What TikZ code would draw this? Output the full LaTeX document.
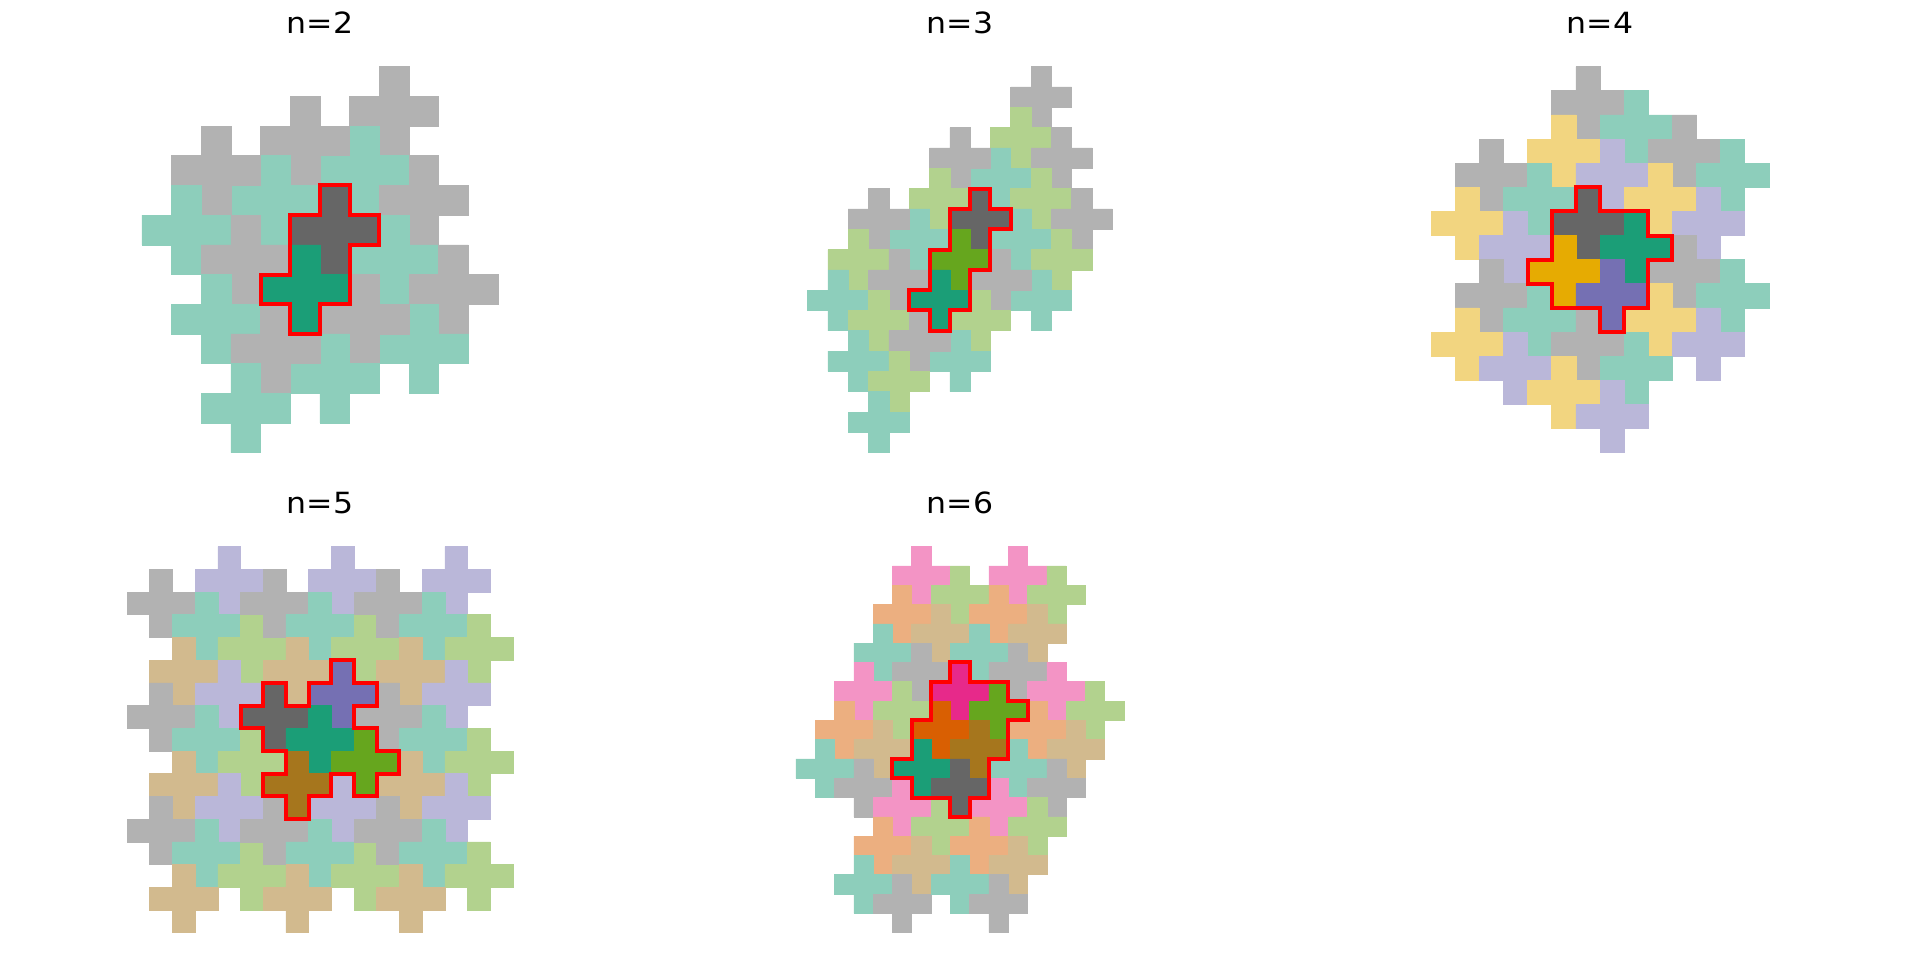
\documentclass[tikz,border=0pt]{standalone}
\usepackage{fontspec}
\setmainfont{DejaVu Sans}
\newfontfamily\titlefont[FakeStretch=1.08]{DejaVu Sans}
\usepackage{xcolor}
\definecolor{dteal}{HTML}{1B9E77}
\definecolor{dorange}{HTML}{D95F02}
\definecolor{dpurple}{HTML}{7570B3}
\definecolor{dpink}{HTML}{E7298A}
\definecolor{dgreen}{HTML}{66A61E}
\definecolor{dyellow}{HTML}{E6AB02}
\definecolor{dbrown}{HTML}{A6761D}
\definecolor{dgray}{HTML}{666666}
% one plus-shaped tile, centre cell (#1,#2), rows counted downwards
\newcommand{\xtile}[3]{\path[tile=#3] (#1,#2) ++(0,-1) -- ++(1,0) -- ++(0,1) -- ++(1,0)
  -- ++(0,1) -- ++(-1,0) -- ++(0,1) -- ++(-1,0) -- ++(0,-1) -- ++(-1,0) -- ++(0,-1) -- ++(1,0) -- cycle;}

\begin{document}
\begin{tikzpicture}[x=0.5pt, y=-0.5pt,
  title/.style={font=\titlefont\fontsize{14.6}{17}\selectfont, anchor=base, inner sep=0pt},
  tile/.style={fill=#1, draw=#1, line width=0.3pt},
  outline/.style={draw=red, line width=2pt, line join=miter}]
\useasboundingbox (0,0) rectangle (1920,960);
\node[title] (t2) at (320,33.6) {n=2};
\node[title] (t3) at (960,33.6) {n=3};
\node[title] (t4) at (1600,33.6) {n=4};
\node[title] (t5) at (320,513.6) {n=5};
\node[title] (t6) at (960,513.6) {n=6};
% n=2
\begin{scope}[shift={(70.9pt,-33.33pt)}, x=14.845pt, y=-14.845pt]
  \foreach \x/\y in {8/1,5/2,2/3,9/4,3/6,10/7,7/8,4/9} {
    \xtile{\x}{\y}{dgray!50}
    \xtile{\x-1}{\y+2}{dteal!50}}
  \xtile{6}{5}{dgray} \xtile{5}{7}{dteal}
  \draw[outline] (6,4) -- (7,4) -- (7,5) -- (8,5) -- (8,6) -- (7,6) -- (7,8) -- (6,8)
    -- (6,9) -- (5,9) -- (5,8) -- (4,8) -- (4,7) -- (5,7) -- (5,5) -- (6,5) -- cycle;
\end{scope}
% n=3
\begin{scope}[shift={(403.8pt,-33.33pt)}, x=10.158pt, y=-10.158pt]
  \foreach \x/\y in {11/1,7/4,12/4,3/7,13/7,4/10,9/10,5/13} {
    \xtile{\x}{\y}{dgray!50}
    \xtile{\x-1}{\y+2}{dgreen!50}
    \xtile{\x-2}{\y+4}{dteal!50}}
  \xtile{8}{7}{dgray} \xtile{7}{9}{dgreen} \xtile{6}{11}{dteal}
  \draw[outline] (8,6) -- (9,6) -- (9,7) -- (10,7) -- (10,8) -- (9,8) -- (9,10) -- (8,10)
    -- (8,12) -- (7,12) -- (7,13) -- (6,13) -- (6,12) -- (5,12) -- (5,11) -- (6,11)
    -- (6,9) -- (7,9) -- (7,7) -- (8,7) -- cycle;
\end{scope}
% n=4
\begin{scope}[shift={(715.55pt,-33.33pt)}, x=12.0625pt, y=-12.0625pt]
  \foreach \x/\y in {6/1,10/3,2/4,10/8,2/9,6/11} {
    \xtile{\x}{\y}{dgray!50}
    \xtile{\x+2}{\y+1}{dteal!50}
    \xtile{\x-1}{\y+2}{dyellow!50}
    \xtile{\x+1}{\y+3}{dpurple!50}}
  \xtile{6}{6}{dgray} \xtile{8}{7}{dteal} \xtile{5}{8}{dyellow} \xtile{7}{9}{dpurple}
  \draw[outline] (6,5) -- (7,5) -- (7,6) -- (9,6) -- (9,7) -- (10,7) -- (10,8) -- (9,8)
    -- (9,10) -- (8,10) -- (8,11) -- (7,11) -- (7,10) -- (5,10) -- (5,9) -- (4,9)
    -- (4,8) -- (5,8) -- (5,6) -- (6,6) -- cycle;
\end{scope}
% n=5
\begin{scope}[shift={(63.5pt,-273.33pt)}, x=11.353pt, y=-11.353pt]
  \foreach \x/\y in {1/2,6/2,11/2,1/7,11/7,1/12,6/12,11/12} {
    \xtile{\x}{\y}{dgray!50}
    \xtile{\x+3}{\y-1}{dpurple!50}
    \xtile{\x+2}{\y+1}{dteal!50}
    \xtile{\x+4}{\y+2}{dgreen!50}
    \xtile{\x+1}{\y+3}{dbrown!50}}
  \xtile{6}{7}{dgray} \xtile{9}{6}{dpurple} \xtile{8}{8}{dteal}
  \xtile{10}{9}{dgreen} \xtile{7}{10}{dbrown}
  \draw[outline] (9,5) -- (10,5) -- (10,6) -- (11,6) -- (11,7) -- (10,7) -- (10,8) -- (11,8)
    -- (11,9) -- (12,9) -- (12,10) -- (11,10) -- (11,11) -- (10,11) -- (10,10) -- (9,10)
    -- (9,11) -- (8,11) -- (8,12) -- (7,12) -- (7,11) -- (6,11) -- (6,10) -- (7,10)
    -- (7,9) -- (6,9) -- (6,8) -- (5,8) -- (5,7) -- (6,7) -- (6,6) -- (7,6) -- (7,7)
    -- (8,7) -- (8,6) -- (9,6) -- cycle;
\end{scope}
% n=6
\begin{scope}[shift={(397.98pt,-273.33pt)}, x=9.65pt, y=-9.65pt]
  \foreach \x/\y in {6/1,11/1,3/7,13/7,5/13,10/13} {
    \xtile{\x}{\y}{dpink!50}
    \xtile{\x+2}{\y+1}{dgreen!50}
    \xtile{\x-1}{\y+2}{dorange!50}
    \xtile{\x+1}{\y+3}{dbrown!50}
    \xtile{\x-2}{\y+4}{dteal!50}
    \xtile{\x}{\y+5}{dgray!50}}
  \xtile{8}{7}{dpink} \xtile{10}{8}{dgreen} \xtile{7}{9}{dorange}
  \xtile{9}{10}{dbrown} \xtile{6}{11}{dteal} \xtile{8}{12}{dgray}
  \draw[outline] (8,6) -- (9,6) -- (9,7) -- (11,7) -- (11,8) -- (12,8) -- (12,9) -- (11,9)
    -- (11,11) -- (10,11) -- (10,13) -- (9,13) -- (9,14) -- (8,14) -- (8,13) -- (6,13)
    -- (6,12) -- (5,12) -- (5,11) -- (6,11) -- (6,9) -- (7,9) -- (7,7) -- (8,7) -- cycle;
\end{scope}
\end{tikzpicture}
\end{document}
